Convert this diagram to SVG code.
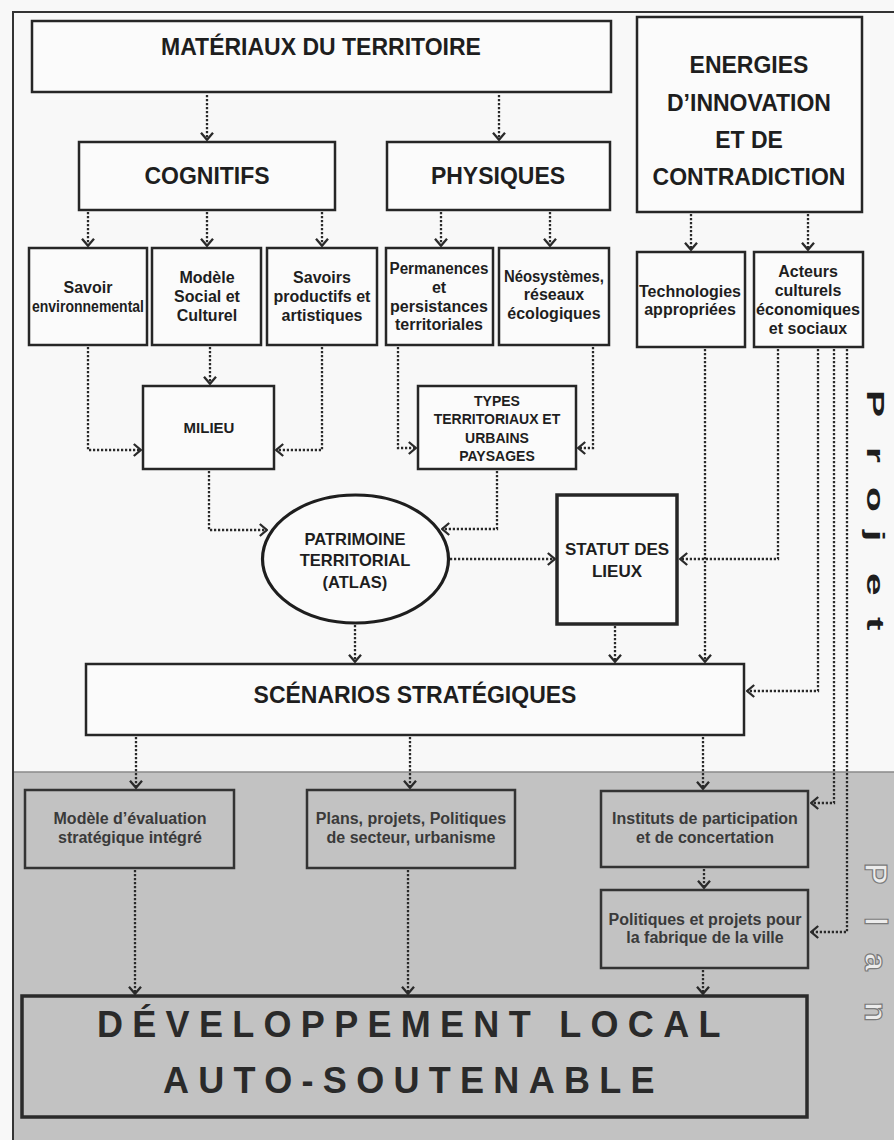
<svg xmlns="http://www.w3.org/2000/svg" width="894" height="1140" viewBox="0 0 894 1140">
<style>
.box{fill:#fbfbfb;stroke:#262626;stroke-width:2.5}
.gbox{fill:#c2c2c2;stroke:#333;stroke-width:2.5}
.t{font-family:"Liberation Sans",Arial,sans-serif;font-weight:bold;fill:#1e1e1e;text-anchor:middle}
.big{font-size:23px}
.sm{font-size:16px}
.g{fill:#3a3a3a}
.c{fill:none;stroke:#2a2a2a;stroke-width:2.3;stroke-dasharray:2.2 1.8;marker-end:url(#ah)}
.side{font-family:"Liberation Sans",Arial,sans-serif;font-weight:bold}
</style>
<defs>
<marker id="ah" viewBox="0 0 9 14" refX="8" refY="7" markerWidth="9" markerHeight="14" markerUnits="userSpaceOnUse" orient="auto">
<path d="M0.8,1 L7.8,7 L0.8,13" fill="none" stroke="#2a2a2a" stroke-width="2.3"/>
</marker>
</defs>
<rect x="0" y="0" width="894" height="1140" fill="#f8f8f8"/>
<rect x="13" y="772" width="881" height="368" fill="#c2c2c2"/>
<line x1="13" y1="772" x2="894" y2="772" stroke="#8a8a8a" stroke-width="1.5"/>
<path d="M13,1140 V12 H894" fill="none" stroke="#333" stroke-width="2"/>

<g id="materiaux"><rect class="box" x="32" y="21" width="579" height="71"/><text class="t big" x="321" y="55">MATÉRIAUX DU TERRITOIRE</text></g>
<g id="energies"><rect class="box" x="637" y="17" width="225" height="195"/><text class="t big" x="749"><tspan x="749" y="73">ENERGIES</tspan><tspan x="749" y="111">D’INNOVATION</tspan><tspan x="749" y="148">ET DE</tspan><tspan x="749" y="185">CONTRADICTION</tspan></text></g>
<g id="cognitifs"><rect class="box" x="79" y="142" width="256" height="68"/><text class="t big" x="207" y="184">COGNITIFS</text></g>
<g id="physiques"><rect class="box" x="387" y="142" width="223" height="68"/><text class="t big" x="498" y="184">PHYSIQUES</text></g>

<g id="savoir-env"><rect class="box" x="29" y="248" width="118" height="97"/><text class="t sm"><tspan x="88" y="293">Savoir</tspan><tspan x="88" y="312" textLength="112" lengthAdjust="spacingAndGlyphs">environnemental</tspan></text></g>
<g id="modele-social"><rect class="box" x="152" y="248" width="109" height="97"/><text class="t sm"><tspan x="207" y="283">Modèle</tspan><tspan x="207" y="302">Social et</tspan><tspan x="207" y="321">Culturel</tspan></text></g>
<g id="savoirs-productifs"><rect class="box" x="267" y="248" width="110" height="97"/><text class="t sm"><tspan x="322" y="283">Savoirs</tspan><tspan x="322" y="302">productifs et</tspan><tspan x="322" y="321">artistiques</tspan></text></g>
<g id="permanences"><rect class="box" x="386" y="248" width="107" height="97"/><text class="t sm"><tspan x="439" y="274" textLength="99" lengthAdjust="spacingAndGlyphs">Permanences</tspan><tspan x="439" y="293">et</tspan><tspan x="439" y="312">persistances</tspan><tspan x="439" y="330">territoriales</tspan></text></g>
<g id="neosystemes"><rect class="box" x="499" y="248" width="110" height="97"/><text class="t sm"><tspan x="554" y="282" textLength="100" lengthAdjust="spacingAndGlyphs">Néosystèmes,</tspan><tspan x="554" y="300">réseaux</tspan><tspan x="554" y="319">écologiques</tspan></text></g>
<g id="technologies"><rect class="box" x="637" y="252" width="108" height="95"/><text class="t sm"><tspan x="690" y="297">Technologies</tspan><tspan x="690" y="315">appropriées</tspan></text></g>
<g id="acteurs"><rect class="box" x="754" y="252" width="109" height="95"/><text class="t sm"><tspan x="808" y="277">Acteurs</tspan><tspan x="808" y="296">culturels</tspan><tspan x="808" y="315" textLength="104" lengthAdjust="spacingAndGlyphs">économiques</tspan><tspan x="808" y="334">et sociaux</tspan></text></g>

<g id="milieu"><rect class="box" x="143" y="386" width="131" height="83"/><text class="t" style="font-size:15px" x="209" y="433">MILIEU</text></g>
<g id="types"><rect class="box" x="418" y="386" width="158" height="83"/><text class="t" style="font-size:14px"><tspan x="497" y="406">TYPES</tspan><tspan x="497" y="424">TERRITORIAUX ET</tspan><tspan x="497" y="443">URBAINS</tspan><tspan x="497" y="461">PAYSAGES</tspan></text></g>
<g id="patrimoine"><ellipse cx="355.5" cy="559" rx="93" ry="64" fill="#fbfbfb" stroke="#1e1e1e" stroke-width="3.2"/><text class="t" style="font-size:16.5px"><tspan x="355" y="545">PATRIMOINE</tspan><tspan x="355" y="566">TERRITORIAL</tspan><tspan x="355" y="588">(ATLAS)</tspan></text></g>
<g id="statut"><rect class="box" x="557" y="495" width="120" height="129" style="stroke-width:3.5"/><text class="t" style="font-size:17px"><tspan x="617" y="555">STATUT DES</tspan><tspan x="617" y="577">LIEUX</tspan></text></g>
<g id="scenarios"><rect class="box" x="86" y="664" width="658" height="71"/><text class="t big" x="415" y="703">SCÉNARIOS STRATÉGIQUES</text></g>

<g id="modele-evaluation"><rect class="gbox" x="25" y="790" width="209" height="78"/><text class="t sm g"><tspan x="130" y="824">Modèle d’évaluation</tspan><tspan x="130" y="843">stratégique intégré</tspan></text></g>
<g id="plans"><rect class="gbox" x="307" y="790" width="208" height="78"/><text class="t sm g"><tspan x="411" y="824">Plans, projets, Politiques</tspan><tspan x="411" y="843">de secteur, urbanisme</tspan></text></g>
<g id="instituts"><rect class="gbox" x="601" y="791" width="207" height="76"/><text class="t sm g"><tspan x="705" y="824">Instituts de participation</tspan><tspan x="705" y="843">et de concertation</tspan></text></g>
<g id="politiques"><rect class="gbox" x="601" y="890" width="207" height="78"/><text class="t sm g"><tspan x="705" y="925">Politiques et projets pour</tspan><tspan x="705" y="943">la fabrique de la ville</tspan></text></g>
<g id="developpement"><rect x="22" y="996" width="785" height="121" fill="#c2c2c2" stroke="#2a2a2a" stroke-width="3.5"/><text style="font-family:'Liberation Sans',Arial,sans-serif;font-weight:bold;font-size:36px;letter-spacing:9.3px;fill:#2a2a2a"><tspan x="97" y="1037">DÉVELOPPEMENT LOCAL</tspan><tspan x="163" y="1093">AUTO-SOUTENABLE</tspan></text></g>

<g id="labels">
<text class="side" transform="rotate(90) scale(1.7 1)" x="229.4 262.9 286.5 311.8 337.1 362.9" y="-867" style="font-size:24px;fill:#1e1e1e">Projet</text>
<text class="side" transform="rotate(90)" x="863 917 953 1002" y="-865" style="font-size:32px;fill:#ececec;stroke:#7a7a7a;stroke-width:1.2">Plan</text>
</g>

<g id="connectors">
<path class="c" d="M207,95 V140"/>
<path class="c" d="M499,95 V140"/>
<path class="c" d="M88,212 V246"/>
<path class="c" d="M207,212 V246"/>
<path class="c" d="M322,212 V246"/>
<path class="c" d="M441,212 V246"/>
<path class="c" d="M550,212 V246"/>
<path class="c" d="M691,214 V250"/>
<path class="c" d="M808,214 V250"/>
<path class="c" d="M88,347 V450 H141"/>
<path class="c" d="M210,347 V384"/>
<path class="c" d="M322,347 V450 H276"/>
<path class="c" d="M398,347 V448 H416"/>
<path class="c" d="M593,347 V448 H578"/>
<path class="c" d="M209,471 V530 H267"/>
<path class="c" d="M497,471 V529 H442"/>
<path class="c" d="M450,559 H555"/>
<path class="c" d="M778,349 V559 H680"/>
<path class="c" d="M355,625 V662"/>
<path class="c" d="M615,626 V662"/>
<path class="c" d="M705,349 V662"/>
<path class="c" d="M818,349 V691 H747"/>
<path class="c" d="M834,349 V803 H811"/>
<path class="c" d="M847,349 V932 H811"/>
<path class="c" d="M136,737 V788"/>
<path class="c" d="M410,737 V788"/>
<path class="c" d="M703,737 V789"/>
<path class="c" d="M704,869 V888"/>
<path class="c" d="M135,870 V994"/>
<path class="c" d="M408,870 V994"/>
<path class="c" d="M703,970 V994"/>
</g>
</svg>
